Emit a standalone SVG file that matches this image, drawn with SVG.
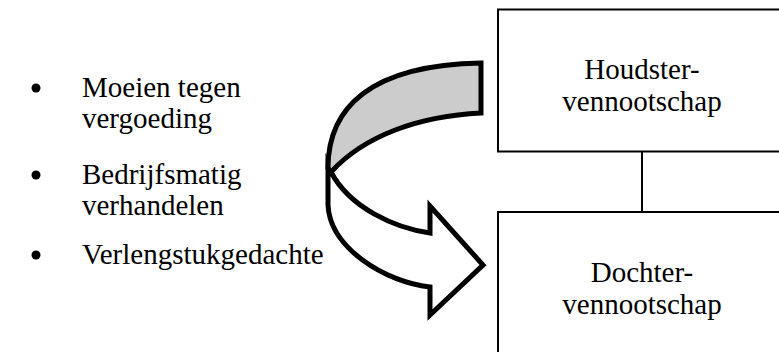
<svg xmlns="http://www.w3.org/2000/svg" width="779" height="352" viewBox="0 0 779 352">
  <style>
    text { font-family: 'Liberation Serif', 'DejaVu Serif', serif; font-size: 29px; fill: #000; }
    .box { fill: #fff; stroke: #000; stroke-width: 2; }
    .link { stroke: #000; stroke-width: 2; fill: none; }
    .band { stroke: #000; stroke-width: 5; stroke-linejoin: miter; stroke-miterlimit: 10; }
  </style>
  <rect width="779" height="352" fill="#fff"/>

  <!-- bullet list -->
  <g id="list">
    <circle cx="36" cy="88" r="4.5" fill="#000"/>
    <text x="82" y="97">Moeien tegen</text>
    <text x="82" y="128">vergoeding</text>
    <circle cx="36" cy="175" r="4.5" fill="#000"/>
    <text x="82" y="184">Bedrijfsmatig</text>
    <text x="82" y="215">verhandelen</text>
    <circle cx="36" cy="255" r="4.5" fill="#000"/>
    <text x="82" y="264">Verlengstukgedachte</text>
  </g>

  <!-- connectors -->
  <g id="connectors">
    <line class="link" x1="642" y1="152" x2="642" y2="212"/>
  </g>

  <g id="houdster">
    <rect class="box" x="498" y="9.5" width="300" height="142"/>
    <text x="642" y="79" text-anchor="middle">Houdster-</text>
    <text x="642" y="111" text-anchor="middle">vennootschap</text>
  </g>

  <g id="dochter">
    <rect class="box" x="498" y="212" width="300" height="160"/>
    <text x="642" y="282" text-anchor="middle">Dochter-</text>
    <text x="642" y="314" text-anchor="middle">vennootschap</text>
  </g>

  <!-- curved transfer arrow -->
  <g id="transfer-arrow">
    <path class="band" fill="#fff" d="M 331,172 C 350,208 395,228 430,233 L 430,206 L 483,265 L 430,315 L 430,287 C 385,282 330,248 328,205 L 328,165 Z"/>
    <path class="band" fill="#ccc" d="M 481,63 L 481,113 C 420,116 365,135 331,172 L 328,168 C 328,108 370,65 481,63 Z"/>
  </g>
</svg>
